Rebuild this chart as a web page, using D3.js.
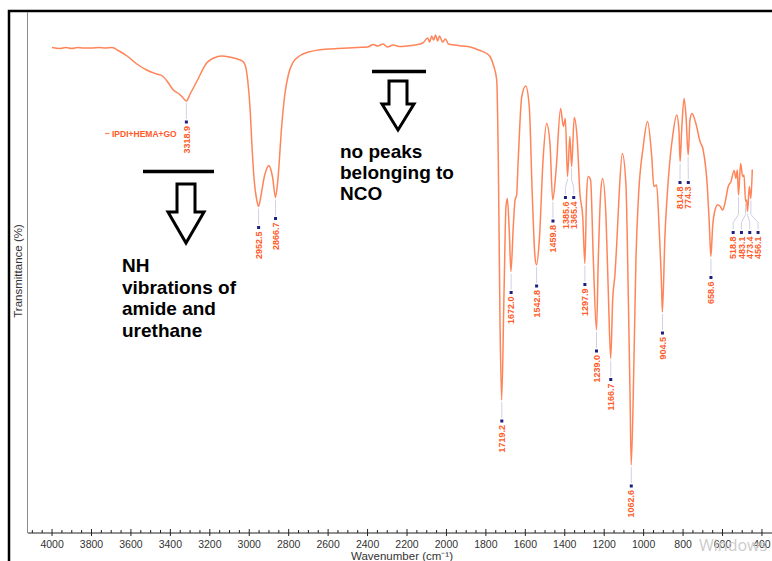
<!DOCTYPE html>
<html>
<head>
<meta charset="utf-8">
<script src="https://cdn.jsdelivr.net/npm/d3@7"></script>
<style>
  body { margin: 0; background: #fff; }
  svg { display: block; font-family: "Liberation Sans", Arial, sans-serif; }
</style>
</head>
<body>
<svg id="chart" width="772" height="561"></svg>
<script>
// spectrum (wavenumber cm-1 / transmittance %)
var wavenumbers = [4000, 3960, 3930, 3900, 3870, 3840, 3800, 3760, 3730, 3697, 3660, 3620, 3570, 3520, 3470, 3440, 3410, 3385, 3355, 3335, 3319,
    3300, 3266, 3216, 3180, 3140, 3100, 3060, 3035, 3021, 3008, 2996, 2985, 2976, 2962, 2953, 2940, 2925, 2910, 2901, 2890, 2881, 2867,
    2855, 2835, 2820, 2802, 2780, 2742, 2700, 2650, 2600, 2550, 2500, 2450, 2400, 2370, 2350, 2320, 2300, 2270, 2240, 2200, 2160, 2120,
    2095, 2085, 2075, 2065, 2055, 2045, 2035, 2020, 2005, 1990, 1960, 1920, 1880, 1850, 1830, 1800, 1779, 1762, 1745, 1737, 1728, 1720,
    1708, 1698, 1691, 1681, 1673, 1661, 1652, 1644, 1636, 1618, 1598, 1580, 1565, 1551, 1543, 1529, 1509, 1492, 1475, 1461, 1444, 1421,
    1407, 1397, 1386, 1374, 1365, 1352, 1337, 1323, 1309, 1298, 1289, 1281, 1269, 1255, 1239, 1230, 1218, 1208, 1191, 1179, 1167, 1157,
    1145, 1137, 1124, 1108, 1090, 1078, 1069, 1063, 1049, 1039, 1027, 1002, 980, 959, 948, 934, 921, 909, 905, 892, 875, 853, 832, 821,
    815, 807, 795, 785, 774, 765, 755, 735, 714, 698, 677, 667, 659, 650, 638, 625, 613, 599, 588, 571, 557, 541, 532, 525, 519, 508,
    498, 491, 483, 478, 473, 464, 456, 449];
var transmittance = [94.5, 94.3, 94.5, 94.3, 94.5, 94.4, 94.4, 94.5, 94.4, 94.5, 93.8, 92.8, 91.2, 90.0, 89.2, 88.8, 87.4, 86.0, 85.2, 84.4, 83.8,
    85.2, 87.7, 91.4, 92.4, 92.8, 92.6, 92.2, 91.8, 91.0, 88.0, 82.4, 74.0, 68.4, 64.0, 62.7, 65.0, 68.4, 70.4, 70.9, 70.0, 68.4, 64.5,
    68.0, 79.0, 85.0, 89.0, 91.4, 92.9, 93.6, 94.0, 94.2, 94.3, 94.4, 94.5, 94.6, 95.1, 94.8, 95.2, 94.6, 95.0, 94.7, 94.8, 95.0, 95.4,
    96.4, 95.6, 96.8, 96.0, 97.0, 95.8, 96.8, 95.6, 96.2, 95.2, 95.0, 94.8, 94.6, 94.2, 93.9, 93.4, 92.7, 91.0, 88.0, 72.0, 38.6, 24.0,
    45.4, 62.7, 64.3, 57.4, 49.7, 58.7, 64.0, 65.0, 72.0, 84.7, 86.8, 82.7, 65.4, 52.7, 51.0, 56.0, 72.7, 79.3, 75.3, 64.0, 70.0, 82.3,
    78.7, 80.3, 68.7, 76.7, 70.7, 80.5, 76.3, 65.3, 60.7, 51.3, 65.3, 68.7, 68.0, 52.0, 38.0, 52.0, 65.3, 68.3, 60.7, 45.4, 32.3, 44.0,
    49.3, 54.7, 65.3, 73.3, 67.3, 45.4, 25.4, 11.0, 32.0, 52.0, 64.0, 74.7, 79.7, 72.7, 66.7, 67.0, 58.0, 46.7, 41.6, 56.7, 68.0, 76.7, 81.0, 78.0,
    71.7, 78.0, 84.3, 80.7, 73.0, 80.0, 81.3, 79.3, 75.7, 74.0, 66.7, 59.3, 52.7, 58.7, 62.0, 63.0, 62.8, 62.0, 63.3, 66.7, 67.7, 69.9, 68.3, 70.0, 65.0, 71.3,
    68.7, 69.0, 63.7, 64.0, 61.7, 66.7, 64.3, 70.1];

// picked peaks
var peaks = [3318.9, 2952.5, 2866.7, 1719.2, 1672.0, 1542.8, 1459.8, 1385.6, 1365.4, 1297.9, 1239.0, 1166.7, 1062.6,
    904.5, 814.8, 774.3, 658.6, 518.8, 483.1, 473.4, 456.1];

var xTicks = [4000, 3800, 3600, 3400, 3200, 3000, 2800, 2600, 2400, 2200, 2000, 1800, 1600, 1400, 1200, 1000, 800, 600, 400];
var seriesName = 'IPDI+HEMA+GO';

var lineColor = '#ff8459';
var labelColor = '#ff5a28';
var dotColor = '#1c1f80';

var svg = d3.select('#chart');

var x = d3.scaleLinear().domain([4122, 349]).range([28, 772]);
var y = d3.scaleLinear().domain([0, 100]).range([520, 20]);

// frame
svg.append('rect').attr('x', 9).attr('y', 11).attr('width', 780).attr('height', 570)
    .attr('fill', 'none').attr('stroke', '#000').attr('stroke-width', 2.5);
svg.append('line').attr('x1', 27.5).attr('x2', 27.5).attr('y1', 12).attr('y2', 533)
    .attr('stroke', '#8a8a8a').attr('stroke-width', 1);

// x axis
var axisY = 533;
var minor = d3.range(400, 4101, 50).filter(function(d) { return d % 200 !== 0; });
var gx = svg.append('g').attr('class', 'x-axis');
gx.append('line').attr('x1', 28).attr('x2', 772).attr('y1', axisY).attr('y2', axisY)
    .attr('stroke', '#222').attr('stroke-width', 1);
gx.selectAll('.minor').data(minor).enter().append('line')
    .attr('x1', function(d) { return x(d); }).attr('x2', function(d) { return x(d); })
    .attr('y1', axisY - 3).attr('y2', axisY)
    .attr('stroke', '#222').attr('stroke-width', 1);
gx.selectAll('.major').data(xTicks).enter().append('line')
    .attr('x1', function(d) { return x(d); }).attr('x2', function(d) { return x(d); })
    .attr('y1', axisY - 4).attr('y2', axisY + 3)
    .attr('stroke', '#222').attr('stroke-width', 1);
gx.selectAll('.lbl').data(xTicks).enter().append('text')
    .attr('x', function(d) { return x(d); }).attr('y', axisY + 15)
    .attr('text-anchor', 'middle').attr('font-size', 10.5).attr('fill', '#333')
    .text(function(d) { return d; });
svg.append('text').attr('x', 402).attr('y', 560).attr('text-anchor', 'middle')
    .attr('font-size', 11.5).attr('fill', '#333').text('Wavenumber (cm\u207B\u00B9)');
svg.append('text').attr('transform', 'translate(22,271) rotate(-90)').attr('text-anchor', 'middle')
    .attr('font-size', 11.5).attr('fill', '#333').text('Transmittance (%)');

// spectrum
var pts = wavenumbers.map(function(w, i) { return { w: w, t: transmittance[i] }; });
var line = d3.line().x(function(d) { return x(d.w); }).y(function(d) { return y(d.t); })
    .curve(d3.curveMonotoneX);
svg.append('path').datum(pts).attr('d', line)
    .attr('fill', 'none').attr('stroke', lineColor).attr('stroke-width', 1.5);

// legend
svg.append('line').attr('x1', 105).attr('x2', 109.5).attr('y1', 133.5).attr('y2', 133.5)
    .attr('stroke', lineColor).attr('stroke-width', 1.2);
svg.append('text').attr('x', 112).attr('y', 137).attr('font-size', 8.5).attr('font-weight', 'bold')
    .attr('fill', labelColor).text(seriesName);

// peak labels: find curve point, group close peaks so labels don't overlap
var marks = peaks.map(function(p) {
    var near = d3.least(pts, function(d) { return Math.abs(d.w - p); });
    return { w: p, px: x(p), cy: y(near.t) };
});
var groups = [];
marks.forEach(function(m) {
    var g = groups[groups.length - 1];
    if (g && m.px - g[g.length - 1].px < 8.4) g.push(m); else groups.push([m]);
});
groups.forEach(function(g) {
    var dy = d3.max(g, function(m) { return m.cy; }) + 21;
    var cx = d3.mean(g, function(m) { return m.px; });
    g.forEach(function(m, i) {
        m.dy = dy;
        m.dx = g.length > 1 ? cx + (i - (g.length - 1) / 2) * 8.3 : m.px;
    });
});
var pk = svg.append('g').attr('class', 'peaks');
pk.selectAll('.lead').data(marks).enter().append('polyline')
    .attr('points', function(m) {
        return [[m.px, m.cy + 2], [m.px, Math.max(m.cy + 2, m.dy - 18)], [m.dx, m.dy - 10], [m.dx, m.dy - 3]].join(' ');
    })
    .attr('fill', 'none').attr('stroke', '#cfd0e6').attr('stroke-width', 1);
pk.selectAll('.dot').data(marks).enter().append('rect')
    .attr('x', function(m) { return m.dx - 1.5; }).attr('y', function(m) { return m.dy - 1.5; })
    .attr('width', 3).attr('height', 3).attr('fill', dotColor);
pk.selectAll('.lbl').data(marks).enter().append('text')
    .attr('transform', function(m) { return 'translate(' + (m.dx + 3.2) + ',' + (m.dy + 4) + ') rotate(-90)'; })
    .attr('text-anchor', 'end').attr('font-size', 9).attr('font-weight', 'bold').attr('fill', labelColor)
    .text(function(m) { return m.w.toFixed(1); });

// annotations
var ann = svg.append('g').attr('class', 'annotations');
ann.append('line').attr('x1', 143).attr('x2', 214).attr('y1', 171.5).attr('y2', 171.5)
    .attr('stroke', '#000').attr('stroke-width', 3.5);
ann.append('path').attr('d', 'M177,184 L195,184 L195,212 L204,212 L186,243 L168,212 L177,212 Z')
    .attr('fill', '#fff').attr('stroke', '#000').attr('stroke-width', 3).attr('stroke-linejoin', 'miter');
ann.append('line').attr('x1', 372).attr('x2', 426).attr('y1', 71.5).attr('y2', 71.5)
    .attr('stroke', '#000').attr('stroke-width', 3.5);
ann.append('path').attr('d', 'M389,81 L407,81 L407,104 L414,104 L398,130 L382,104 L389,104 Z')
    .attr('fill', '#fff').attr('stroke', '#000').attr('stroke-width', 3).attr('stroke-linejoin', 'miter');

var nhLines = ['NH', 'vibrations of', 'amide and', 'urethane'];
ann.selectAll('.nh').data(nhLines).enter().append('text')
    .attr('x', 122).attr('y', function(d, i) { return 272 + i * 21.5; })
    .attr('font-size', 19).attr('font-weight', 'bold').attr('fill', '#000').text(function(d) { return d; });
var ncoLines = ['no peaks', 'belonging to', 'NCO'];
ann.selectAll('.nco').data(ncoLines).enter().append('text')
    .attr('x', 340).attr('y', function(d, i) { return 158 + i * 21; })
    .attr('font-size', 19).attr('font-weight', 'bold').attr('fill', '#000').text(function(d) { return d; });

// watermark
svg.append('text').attr('x', 699).attr('y', 551).attr('font-size', 16).attr('fill', '#cccccc')
    .attr('font-family', '"Open Sans", sans-serif').text('Windows');
</script>
</body>
</html>
